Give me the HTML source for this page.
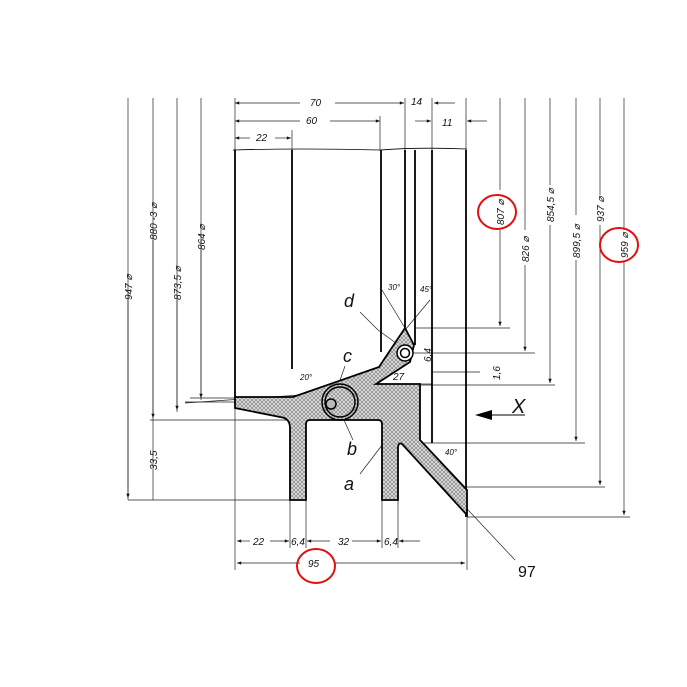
<!DOCTYPE html>
<html><head><meta charset="utf-8"><style>
html,body{margin:0;padding:0;background:#fff}
svg{display:block}
text{font-family:"Liberation Sans",sans-serif;font-style:italic;fill:#111}
</style></head><body>
<svg width="687" height="687" viewBox="0 0 687 687" xmlns="http://www.w3.org/2000/svg">
<defs>
<pattern id="h" width="4" height="4" patternUnits="userSpaceOnUse">
<rect width="4" height="4" fill="#ddd"/>
<path d="M0,4 L4,0 M0,0 L4,4" stroke="#777" stroke-width="0.6"/>
</pattern>
<marker id="a" viewBox="0 0 10 10" refX="10" refY="5" markerWidth="8" markerHeight="6" orient="auto-start-reverse"><path d="M0,1 L10,5 L0,9 z" fill="#111"/></marker>
</defs>
<g stroke="#222" stroke-width="0.7" fill="none">
<!-- left vertical dim lines -->
<line x1="128" y1="98" x2="128" y2="500"/>
<line x1="153" y1="98" x2="153" y2="500"/>
<line x1="177" y1="98" x2="177" y2="412"/>
<line x1="201" y1="98" x2="201" y2="400"/>
<line x1="128" y1="500" x2="290" y2="500"/>
<line x1="150" y1="420" x2="306" y2="420"/>
<line x1="185" y1="402" x2="235" y2="402"/>
<line x1="190" y1="398" x2="235" y2="398"/>
<!-- right horizontal ext lines -->
<line x1="415" y1="328" x2="510" y2="328"/>
<line x1="412" y1="353" x2="535" y2="353"/>
<line x1="420" y1="385" x2="555" y2="385"/>
<line x1="420" y1="443" x2="585" y2="443"/>
<line x1="467" y1="487" x2="605" y2="487"/>
<line x1="467" y1="517" x2="630" y2="517"/>
<!-- right vertical dims -->
<line x1="500" y1="98" x2="500" y2="190"/><line x1="500" y1="230" x2="500" y2="326" marker-end="url(#a)"/>
<line x1="525" y1="98" x2="525" y2="230"/><line x1="525" y1="265" x2="525" y2="351" marker-end="url(#a)"/>
<line x1="550" y1="98" x2="550" y2="185"/><line x1="550" y1="225" x2="550" y2="383" marker-end="url(#a)"/>
<line x1="576" y1="98" x2="576" y2="215"/><line x1="576" y1="260" x2="576" y2="441" marker-end="url(#a)"/>
<line x1="600" y1="98" x2="600" y2="195"/><line x1="600" y1="225" x2="600" y2="485" marker-end="url(#a)"/>
<line x1="624" y1="98" x2="624" y2="230"/><line x1="624" y1="262" x2="624" y2="515" marker-end="url(#a)"/>
<line x1="128" y1="300" x2="128" y2="498" marker-end="url(#a)"/>
<line x1="153" y1="240" x2="153" y2="418" marker-end="url(#a)"/>
<line x1="177" y1="300" x2="177" y2="410" marker-end="url(#a)"/>
<line x1="201" y1="250" x2="201" y2="398" marker-end="url(#a)"/>
<!-- top dims -->
<line x1="235" y1="98" x2="235" y2="150"/>
<line x1="235" y1="103" x2="300" y2="103" marker-start="url(#a)"/><line x1="335" y1="103" x2="404" y2="103" marker-end="url(#a)"/>
<line x1="405" y1="98" x2="405" y2="150"/><line x1="432" y1="98" x2="432" y2="150"/><line x1="466" y1="98" x2="466" y2="150"/>
<line x1="434" y1="103" x2="455" y2="103" marker-start="url(#a)"/>
<line x1="235" y1="121" x2="300" y2="121" marker-start="url(#a)"/><line x1="330" y1="121" x2="380" y2="121" marker-end="url(#a)"/>
<line x1="380" y1="116" x2="380" y2="150"/>
<line x1="415" y1="121" x2="431" y2="121" marker-end="url(#a)"/><line x1="487" y1="121" x2="467" y2="121" marker-end="url(#a)"/>
<line x1="235" y1="138" x2="250" y2="138" marker-start="url(#a)"/><line x1="275" y1="138" x2="291" y2="138" marker-end="url(#a)"/>
<line x1="292" y1="130" x2="292" y2="150"/>
<!-- bottom dims -->
<line x1="235" y1="408" x2="235" y2="570"/>
<line x1="290" y1="500" x2="290" y2="548"/><line x1="306" y1="500" x2="306" y2="548"/>
<line x1="382" y1="500" x2="382" y2="548"/><line x1="398" y1="500" x2="398" y2="548"/>
<line x1="467" y1="517" x2="467" y2="570"/>
<line x1="237" y1="541" x2="250" y2="541" marker-start="url(#a)"/><line x1="270" y1="541" x2="289" y2="541" marker-end="url(#a)"/>
<line x1="307" y1="541" x2="330" y2="541" marker-start="url(#a)"/><line x1="352" y1="541" x2="381" y2="541" marker-end="url(#a)"/>
<line x1="399" y1="541" x2="420" y2="541" marker-start="url(#a)"/>
<line x1="237" y1="563" x2="300" y2="563" marker-start="url(#a)"/><line x1="335" y1="563" x2="465" y2="563" marker-end="url(#a)"/>
<!-- leader lines -->
<line x1="440" y1="480" x2="515" y2="560"/>
<line x1="378" y1="330" x2="400" y2="346" /><line x1="360" y1="312" x2="378" y2="330"/>
<line x1="344" y1="420" x2="353" y2="440"/>
<line x1="360" y1="474" x2="392" y2="432"/>
<line x1="345" y1="366" x2="338" y2="386"/>
<line x1="185" y1="403" x2="300" y2="395"/>
<line x1="382" y1="290" x2="405" y2="328"/><line x1="430" y1="300" x2="405" y2="330"/>
<line x1="417" y1="384" x2="432" y2="384"/>
<line x1="432" y1="372" x2="480" y2="372"/>
</g>
<!-- body lines -->
<g stroke="#000" stroke-width="1.8" fill="none">
<path d="M233,150 Q300,148 380,150 Q420,147 467,149" stroke-width="0.8"/>
<line x1="235" y1="150" x2="235" y2="397"/>
<line x1="292" y1="150" x2="292" y2="369"/>
<line x1="381" y1="150" x2="381" y2="352"/>
<line x1="405" y1="150" x2="405" y2="328"/>
<line x1="415" y1="150" x2="415" y2="345"/>
<line x1="432" y1="150" x2="432" y2="443"/>
<line x1="466" y1="150" x2="466" y2="517"/>
</g>
<path d="M235,397 L293,397 L379,367 L405,328 L414,345 L410,362 L376,384 L420,384 L420,440 L467,490 L467,515 L403,445 Q399,441 398,447 L398,500 L382,500 L382,424 Q382,420 378,420 L310,420 Q306,420 306,424 L306,500 L290,500 L290,428 Q290,418 280,417 L235,408 Z" fill="url(#h)" stroke="#000" stroke-width="1.8"/>
<g fill="none" stroke="#000" stroke-width="1.5">
<circle cx="340" cy="402" r="18"/><circle cx="340" cy="402" r="15"/>
<circle cx="331" cy="404" r="5" fill="#bbb"/>
<circle cx="405" cy="353" r="8" fill="#fff"/><circle cx="405" cy="353" r="4.5"/>
</g>
<!-- arrow X -->
<line x1="490" y1="415" x2="525" y2="415" stroke="#000" stroke-width="1"/>
<path d="M475,415 L492,410 L492,420 Z" fill="#000"/>
<text x="512" y="413" font-size="20">X</text>
<!-- labels -->
<g font-size="18"><text x="344" y="307">d</text><text x="343" y="362">c</text><text x="347" y="455">b</text><text x="344" y="490">a</text></g>
<text x="518" y="577" font-size="16" style="font-style:normal">97</text>
<g font-size="10">
<text x="310" y="106">70</text><text x="411" y="105">14</text>
<text x="306" y="124">60</text><text x="442" y="126">11</text>
<text x="256" y="141">22</text>
<text x="253" y="545">22</text><text x="291" y="545">6,4</text><text x="338" y="545">32</text><text x="384" y="545">6,4</text>
<text x="308" y="567">95</text>
<text x="393" y="380">27</text>
<text x="300" y="380" font-size="8">20°</text><text x="388" y="290" font-size="8">30°</text><text x="420" y="292" font-size="8">45°</text>
<text x="445" y="455" font-size="8">40°</text>
</g>
<g font-size="10">
<text transform="translate(132,300) rotate(-90)">947 ⌀</text>
<text transform="translate(157,240) rotate(-90)">880 -3 ⌀</text>
<text transform="translate(181,300) rotate(-90)">873,5 ⌀</text>
<text transform="translate(205,250) rotate(-90)">864 ⌀</text>
<text transform="translate(157,470) rotate(-90)">33,5</text>
<text transform="translate(504,225) rotate(-90)">807 ⌀</text>
<text transform="translate(529,262) rotate(-90)">826 ⌀</text>
<text transform="translate(554,222) rotate(-90)">854,5 ⌀</text>
<text transform="translate(580,258) rotate(-90)">899,5 ⌀</text>
<text transform="translate(604,222) rotate(-90)">937 ⌀</text>
<text transform="translate(628,258) rotate(-90)">959 ⌀</text>
<text transform="translate(431,362) rotate(-90)">6,4</text>
<text transform="translate(500,380) rotate(-90)">1,6</text>
</g>
<!-- red circles -->
<g fill="none" stroke="#e01010" stroke-width="2">
<ellipse cx="497" cy="212" rx="19" ry="17"/>
<ellipse cx="619" cy="245" rx="19" ry="17"/>
<ellipse cx="316" cy="566" rx="19" ry="17"/>
</g>
</svg>
</body></html>
